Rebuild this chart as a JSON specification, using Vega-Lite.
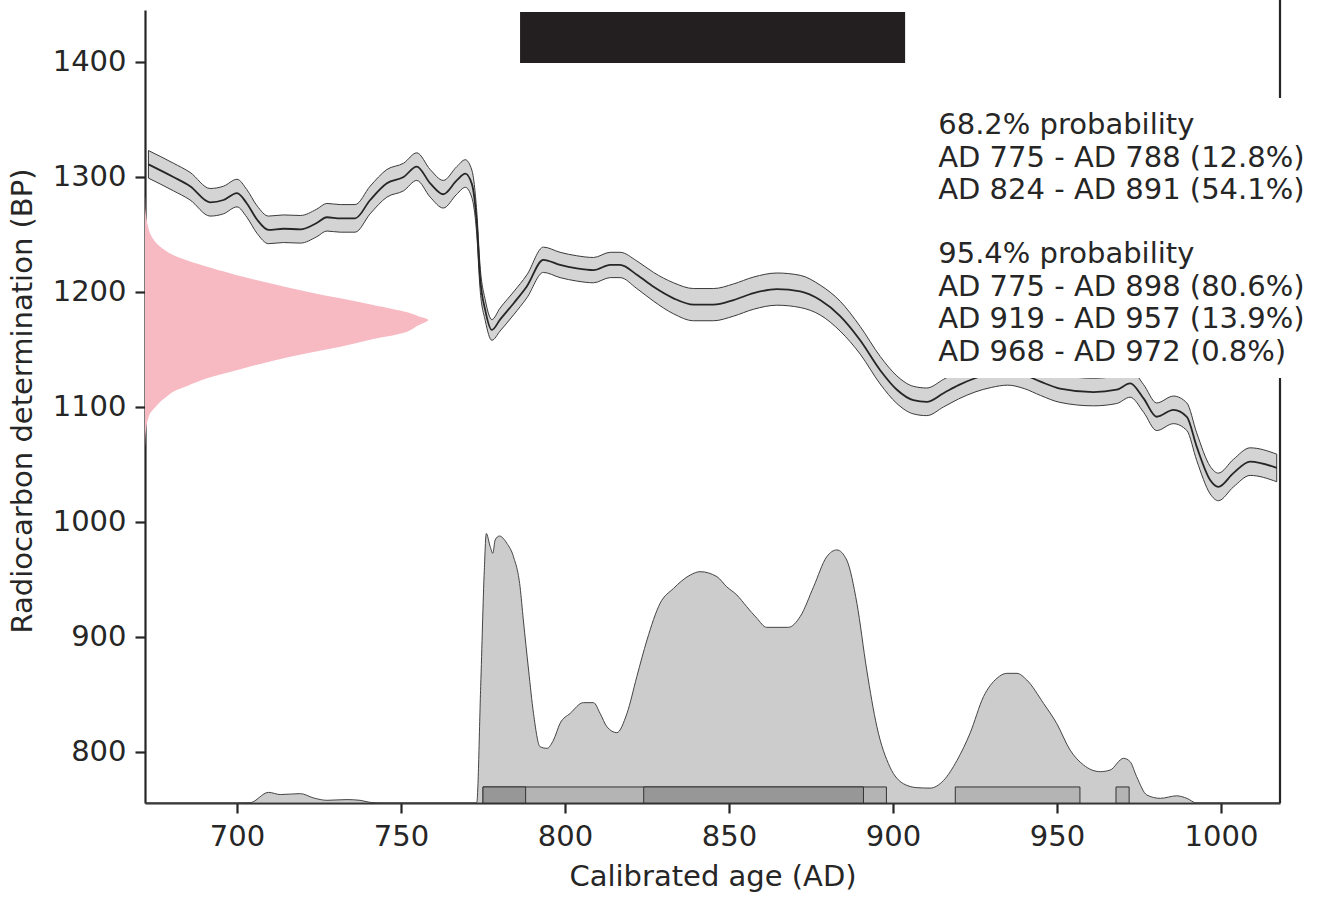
{
  "$schema": "https://vega.github.io/schema/vega-lite/v6.json",
  "width": 1135,
  "height": 793,
  "autosize": {"type": "none"},
  "padding": {"left": 145, "top": 10, "right": 39, "bottom": 94},
  "background": "white",
  "config": {
    "font": "DejaVu Sans",
    "view": {"stroke": null},
    "axis": {
      "domainColor": "#262626", "domainWidth": 2.2,
      "tickColor": "#262626", "tickWidth": 2.2, "tickSize": 10,
      "labelFont": "DejaVu Sans", "labelFontSize": 29, "labelColor": "#262626", "labelPadding": 9,
      "titleFont": "DejaVu Sans", "titleFontSize": 29, "titleFontWeight": "normal", "titleColor": "#262626",
      "grid": false, "format": "d"
    },
    "axisX": {"titlePadding": 11},
    "axisY": {"titlePadding": 15, "titleY": 390.5}
  },
  "datasets": {
    "pink": [
      {"bp": 1282, "w": 672.0}, {"bp": 1271, "w": 672.1}, {"bp": 1262, "w": 672.5}, {"bp": 1251, "w": 673.5},
      {"bp": 1245, "w": 674.7}, {"bp": 1239.4, "w": 676.6}, {"bp": 1235.5, "w": 678.5}, {"bp": 1232.2, "w": 680.5},
      {"bp": 1227, "w": 685.3}, {"bp": 1222, "w": 690.9}, {"bp": 1213.9, "w": 701.0}, {"bp": 1207, "w": 711.0},
      {"bp": 1200.3, "w": 721.4}, {"bp": 1194.5, "w": 731.5}, {"bp": 1188.7, "w": 741.5}, {"bp": 1182.3, "w": 751.9},
      {"bp": 1179, "w": 755.3}, {"bp": 1175.7, "w": 758.3}, {"bp": 1171, "w": 755.3},
      {"bp": 1165.5, "w": 751.9}, {"bp": 1159.1, "w": 741.5}, {"bp": 1152.4, "w": 731.5},
      {"bp": 1146.7, "w": 721.4}, {"bp": 1140.3, "w": 711.0}, {"bp": 1132.8, "w": 701.0}, {"bp": 1124.9, "w": 690.9},
      {"bp": 1118.5, "w": 685.0}, {"bp": 1113.3, "w": 680.5}, {"bp": 1109, "w": 678.5}, {"bp": 1104.6, "w": 676.6},
      {"bp": 1099, "w": 674.8}, {"bp": 1094.5, "w": 673.5}, {"bp": 1085, "w": 672.5}, {"bp": 1075, "w": 672.1},
      {"bp": 1066, "w": 672.0}
    ],
    "curve": [
      {"year": 673, "bp": 1311, "lo": 1299, "hi": 1323},
      {"year": 680.6, "bp": 1300, "lo": 1288, "hi": 1312},
      {"year": 685.7, "bp": 1292, "lo": 1280, "hi": 1304},
      {"year": 691.8, "bp": 1278, "lo": 1266, "hi": 1290},
      {"year": 695.9, "bp": 1280, "lo": 1268, "hi": 1292},
      {"year": 700, "bp": 1286, "lo": 1274, "hi": 1298},
      {"year": 703, "bp": 1277, "lo": 1265, "hi": 1289},
      {"year": 706.1, "bp": 1263, "lo": 1251, "hi": 1275},
      {"year": 709.6, "bp": 1254, "lo": 1242, "hi": 1266},
      {"year": 714.2, "bp": 1255, "lo": 1243, "hi": 1267},
      {"year": 719.3, "bp": 1254.5, "lo": 1242.5, "hi": 1266.5},
      {"year": 724.3, "bp": 1260, "lo": 1248, "hi": 1272},
      {"year": 727.4, "bp": 1265, "lo": 1253, "hi": 1277},
      {"year": 731.5, "bp": 1264, "lo": 1252, "hi": 1276},
      {"year": 736, "bp": 1264, "lo": 1252, "hi": 1276},
      {"year": 740.6, "bp": 1280, "lo": 1268, "hi": 1292},
      {"year": 745.7, "bp": 1294.5, "lo": 1282.5, "hi": 1306.5},
      {"year": 750.8, "bp": 1300, "lo": 1288, "hi": 1312},
      {"year": 754.8, "bp": 1309, "lo": 1297, "hi": 1321},
      {"year": 758.9, "bp": 1294.5, "lo": 1282.5, "hi": 1306.5},
      {"year": 762.9, "bp": 1285, "lo": 1273, "hi": 1297},
      {"year": 767, "bp": 1297, "lo": 1285, "hi": 1309},
      {"year": 769.6, "bp": 1303, "lo": 1291, "hi": 1315},
      {"year": 771.6, "bp": 1294, "lo": 1282, "hi": 1306},
      {"year": 773.1, "bp": 1260, "lo": 1250, "hi": 1270},
      {"year": 774.1, "bp": 1213, "lo": 1203, "hi": 1223},
      {"year": 775.7, "bp": 1184, "lo": 1175, "hi": 1193},
      {"year": 777.7, "bp": 1167, "lo": 1158, "hi": 1176},
      {"year": 780.2, "bp": 1176, "lo": 1166, "hi": 1186},
      {"year": 784.3, "bp": 1190, "lo": 1180, "hi": 1200},
      {"year": 788.4, "bp": 1205, "lo": 1195, "hi": 1215},
      {"year": 793.4, "bp": 1228, "lo": 1217, "hi": 1239},
      {"year": 798.5, "bp": 1223.5, "lo": 1212.5, "hi": 1234.5},
      {"year": 803.6, "bp": 1220.5, "lo": 1209.5, "hi": 1231.5},
      {"year": 808.7, "bp": 1219, "lo": 1208, "hi": 1230},
      {"year": 813.8, "bp": 1223.5, "lo": 1212.5, "hi": 1234.5},
      {"year": 816.8, "bp": 1223.5, "lo": 1212.5, "hi": 1234.5},
      {"year": 821.9, "bp": 1215, "lo": 1203, "hi": 1227},
      {"year": 827, "bp": 1204.5, "lo": 1192, "hi": 1217},
      {"year": 833.1, "bp": 1194.5, "lo": 1181, "hi": 1208},
      {"year": 839.2, "bp": 1189, "lo": 1175, "hi": 1203},
      {"year": 845.3, "bp": 1189, "lo": 1175, "hi": 1203},
      {"year": 851.4, "bp": 1193, "lo": 1179, "hi": 1207},
      {"year": 857.5, "bp": 1199, "lo": 1185, "hi": 1213},
      {"year": 864.6, "bp": 1202.5, "lo": 1188.5, "hi": 1216.5},
      {"year": 871.7, "bp": 1200.5, "lo": 1186.5, "hi": 1214.5},
      {"year": 877.8, "bp": 1193, "lo": 1180, "hi": 1206},
      {"year": 883.9, "bp": 1179, "lo": 1166, "hi": 1192},
      {"year": 890, "bp": 1158, "lo": 1146, "hi": 1170},
      {"year": 896.1, "bp": 1132, "lo": 1120, "hi": 1144},
      {"year": 901.2, "bp": 1115, "lo": 1103, "hi": 1127},
      {"year": 906.2, "bp": 1106, "lo": 1094, "hi": 1118},
      {"year": 910.3, "bp": 1104.5, "lo": 1092.5, "hi": 1116.5},
      {"year": 915.4, "bp": 1112, "lo": 1100, "hi": 1124},
      {"year": 920, "bp": 1119, "lo": 1107, "hi": 1131},
      {"year": 925, "bp": 1125, "lo": 1113, "hi": 1137},
      {"year": 930, "bp": 1129, "lo": 1117, "hi": 1141},
      {"year": 935, "bp": 1131, "lo": 1119, "hi": 1143},
      {"year": 940, "bp": 1128, "lo": 1116, "hi": 1140},
      {"year": 945, "bp": 1122, "lo": 1110, "hi": 1134},
      {"year": 950.9, "bp": 1116, "lo": 1104, "hi": 1128},
      {"year": 961.1, "bp": 1113, "lo": 1101, "hi": 1125},
      {"year": 968.2, "bp": 1115, "lo": 1103, "hi": 1127},
      {"year": 972.3, "bp": 1120.5, "lo": 1108.5, "hi": 1132.5},
      {"year": 976.4, "bp": 1107.5, "lo": 1095.5, "hi": 1119.5},
      {"year": 980.4, "bp": 1091.5, "lo": 1079.5, "hi": 1103.5},
      {"year": 985.5, "bp": 1097.5, "lo": 1085.5, "hi": 1109.5},
      {"year": 989.6, "bp": 1091.5, "lo": 1079.5, "hi": 1103.5},
      {"year": 992.6, "bp": 1065.5, "lo": 1053.5, "hi": 1077.5},
      {"year": 996.7, "bp": 1036.5, "lo": 1024.5, "hi": 1048.5},
      {"year": 999.2, "bp": 1030.5, "lo": 1018.5, "hi": 1042.5},
      {"year": 1003.8, "bp": 1042.5, "lo": 1030.5, "hi": 1054.5},
      {"year": 1008.9, "bp": 1052.5, "lo": 1040.5, "hi": 1064.5},
      {"year": 1017, "bp": 1047, "lo": 1035, "hi": 1059}
    ],
    "density": [
      {"year": 672, "p": 755.65}, {"year": 700, "p": 755.65}, {"year": 704, "p": 755.9},
      {"year": 709.6, "p": 764.9}, {"year": 713.2, "p": 763}, {"year": 719.3, "p": 763.8},
      {"year": 723.3, "p": 760.1}, {"year": 727.4, "p": 758}, {"year": 733.5, "p": 758.6},
      {"year": 737.5, "p": 758}, {"year": 740.6, "p": 756.2}, {"year": 745, "p": 755.65},
      {"year": 772.5, "p": 755.65}, {"year": 773.1, "p": 756}, {"year": 774.3, "p": 857},
      {"year": 775.4, "p": 958}, {"year": 776.0, "p": 990}, {"year": 777.2, "p": 978.5},
      {"year": 778.0, "p": 972.8}, {"year": 778.7, "p": 984.3}, {"year": 780.0, "p": 987.8},
      {"year": 782.3, "p": 981.4}, {"year": 784.3, "p": 969.8}, {"year": 786.3, "p": 943.7},
      {"year": 787.3, "p": 914.8}, {"year": 788.9, "p": 871.3}, {"year": 790.4, "p": 833.6},
      {"year": 792.4, "p": 804.6}, {"year": 794.5, "p": 803.2}, {"year": 796.5, "p": 810.4},
      {"year": 798.5, "p": 824.9}, {"year": 801.6, "p": 833.6}, {"year": 805.6, "p": 842.9},
      {"year": 808.7, "p": 842.9}, {"year": 810.7, "p": 833.6}, {"year": 812.8, "p": 821.9},
      {"year": 815.8, "p": 816.8}, {"year": 818.9, "p": 833.6}, {"year": 821.9, "p": 865.5},
      {"year": 825.0, "p": 897.4}, {"year": 829.0, "p": 929.3}, {"year": 833.1, "p": 942.3},
      {"year": 838.2, "p": 953.9}, {"year": 841.2, "p": 956.8}, {"year": 846.3, "p": 952.5},
      {"year": 849.3, "p": 943.7}, {"year": 852.4, "p": 936.5}, {"year": 855.4, "p": 926.4},
      {"year": 858.5, "p": 916.3}, {"year": 861.5, "p": 908.4}, {"year": 868.1, "p": 908.4},
      {"year": 871.7, "p": 917.7}, {"year": 875.8, "p": 943.7}, {"year": 879.8, "p": 969.8},
      {"year": 882.9, "p": 975.7}, {"year": 885.9, "p": 966.9}, {"year": 889.0, "p": 929.3},
      {"year": 892.0, "p": 871.3}, {"year": 895.1, "p": 821.9}, {"year": 899.1, "p": 786.8},
      {"year": 903.2, "p": 772.4}, {"year": 907.3, "p": 769}, {"year": 911.3, "p": 768.6},
      {"year": 915.4, "p": 775.2}, {"year": 919.5, "p": 792.6}, {"year": 923.5, "p": 816.3},
      {"year": 927.6, "p": 848.1}, {"year": 931.7, "p": 864.1}, {"year": 934.7, "p": 868.4},
      {"year": 937.8, "p": 868.4}, {"year": 940.8, "p": 862.6}, {"year": 945.9, "p": 842.3},
      {"year": 949.9, "p": 824.9}, {"year": 954.0, "p": 801.7}, {"year": 958.1, "p": 788.7},
      {"year": 963.2, "p": 782.9}, {"year": 966.2, "p": 784.3}, {"year": 970.3, "p": 794.5},
      {"year": 972.3, "p": 791.6}, {"year": 974.3, "p": 778.5}, {"year": 977.4, "p": 762.6},
      {"year": 981.5, "p": 759.7}, {"year": 986.5, "p": 761.9}, {"year": 989.6, "p": 759.7},
      {"year": 992.6, "p": 755.65}, {"year": 1018, "p": 755.65}
    ],
    "hpd95": [
      {"start": 775, "end": 898}, {"start": 919, "end": 957}, {"start": 968, "end": 972}
    ],
    "hpd68": [
      {"start": 775, "end": 788}, {"start": 824, "end": 891}
    ]
  },
  "layer": [
    {
      "data": {"name": "pink"},
      "mark": {"type": "area", "orient": "horizontal", "fill": "#f7bac3", "interpolate": "catmull-rom"},
      "encoding": {
        "y": {"field": "bp", "type": "quantitative",
              "scale": {"domain": [755.65, 1445.2], "nice": false, "zero": false},
              "axis": {"title": "Radiocarbon determination (BP)", "values": [800, 900, 1000, 1100, 1200, 1300, 1400]}},
        "x": {"field": "w", "type": "quantitative",
              "scale": {"domain": [671.95, 1018], "nice": false, "zero": false},
              "axis": {"title": "Calibrated age (AD)", "values": [700, 750, 800, 850, 900, 950, 1000]}},
        "x2": {"datum": 671.95}
      }
    },
    {
      "data": {"name": "curve"},
      "mark": {"type": "area", "fill": "#d4d4d4", "stroke": "#3a3a3a", "strokeWidth": 1, "interpolate": "monotone"},
      "encoding": {
        "x": {"field": "year", "type": "quantitative"},
        "y": {"field": "lo", "type": "quantitative"},
        "y2": {"field": "hi"}
      }
    },
    {
      "data": {"name": "curve"},
      "mark": {"type": "line", "stroke": "#262626", "strokeWidth": 1.8, "interpolate": "monotone"},
      "encoding": {
        "x": {"field": "year", "type": "quantitative"},
        "y": {"field": "bp", "type": "quantitative"}
      }
    },
    {
      "data": {"name": "density"},
      "mark": {"type": "area", "fill": "#cccccc", "stroke": "#444444", "strokeWidth": 1, "interpolate": "monotone"},
      "encoding": {
        "x": {"field": "year", "type": "quantitative"},
        "y": {"field": "p", "type": "quantitative"},
        "y2": {"datum": 755.65}
      }
    },
    {
      "data": {"name": "hpd95"},
      "mark": {"type": "rect", "fill": "#b4b4b4", "stroke": "#333333", "strokeWidth": 1},
      "encoding": {
        "x": {"field": "start", "type": "quantitative"},
        "x2": {"field": "end"},
        "y": {"datum": 755.65},
        "y2": {"datum": 769.6}
      }
    },
    {
      "data": {"name": "hpd68"},
      "mark": {"type": "rect", "fill": "#979797", "stroke": "#333333", "strokeWidth": 1},
      "encoding": {
        "x": {"field": "start", "type": "quantitative"},
        "x2": {"field": "end"},
        "y": {"datum": 755.65},
        "y2": {"datum": 769.6}
      }
    },
    {
      "data": {"values": [{}]},
      "mark": {"type": "rule", "stroke": "#262626", "strokeWidth": 2.2},
      "encoding": {
        "x": {"datum": 1018},
        "y": {"datum": 1454},
        "y2": {"datum": 755.65}
      }
    },
    {
      "data": {"values": [{}]},
      "mark": {"type": "rect", "fill": "white"},
      "encoding": {
        "x": {"datum": 910.4},
        "x2": {"datum": 1030},
        "y": {"datum": 1368.7},
        "y2": {"datum": 1125.2}
      }
    },
    {
      "data": {"values": [{}]},
      "mark": {"type": "text", "align": "left", "baseline": "top", "fontSize": 29, "lineHeight": 32.5,
               "color": "#262626", "font": "DejaVu Sans",
               "text": ["68.2% probability", "AD 775 - AD 788 (12.8%)", "AD 824 - AD 891 (54.1%)"]},
      "encoding": {
        "x": {"datum": 913.8},
        "y": {"datum": 1357.1}
      }
    },
    {
      "data": {"values": [{}]},
      "mark": {"type": "text", "align": "left", "baseline": "top", "fontSize": 29, "lineHeight": 32.5,
               "color": "#262626", "font": "DejaVu Sans",
               "text": ["95.4% probability", "AD 775 - AD 898 (80.6%)", "AD 919 - AD 957 (13.9%)", "AD 968 - AD 972 (0.8%)"]},
      "encoding": {
        "x": {"datum": 913.8},
        "y": {"datum": 1244.9}
      }
    },
    {
      "data": {"values": [{}]},
      "mark": {"type": "rect", "fill": "#231f20"},
      "encoding": {
        "x": {"datum": 786.3},
        "x2": {"datum": 903.7},
        "y": {"datum": 1443.5},
        "y2": {"datum": 1399.1}
      }
    }
  ]
}
